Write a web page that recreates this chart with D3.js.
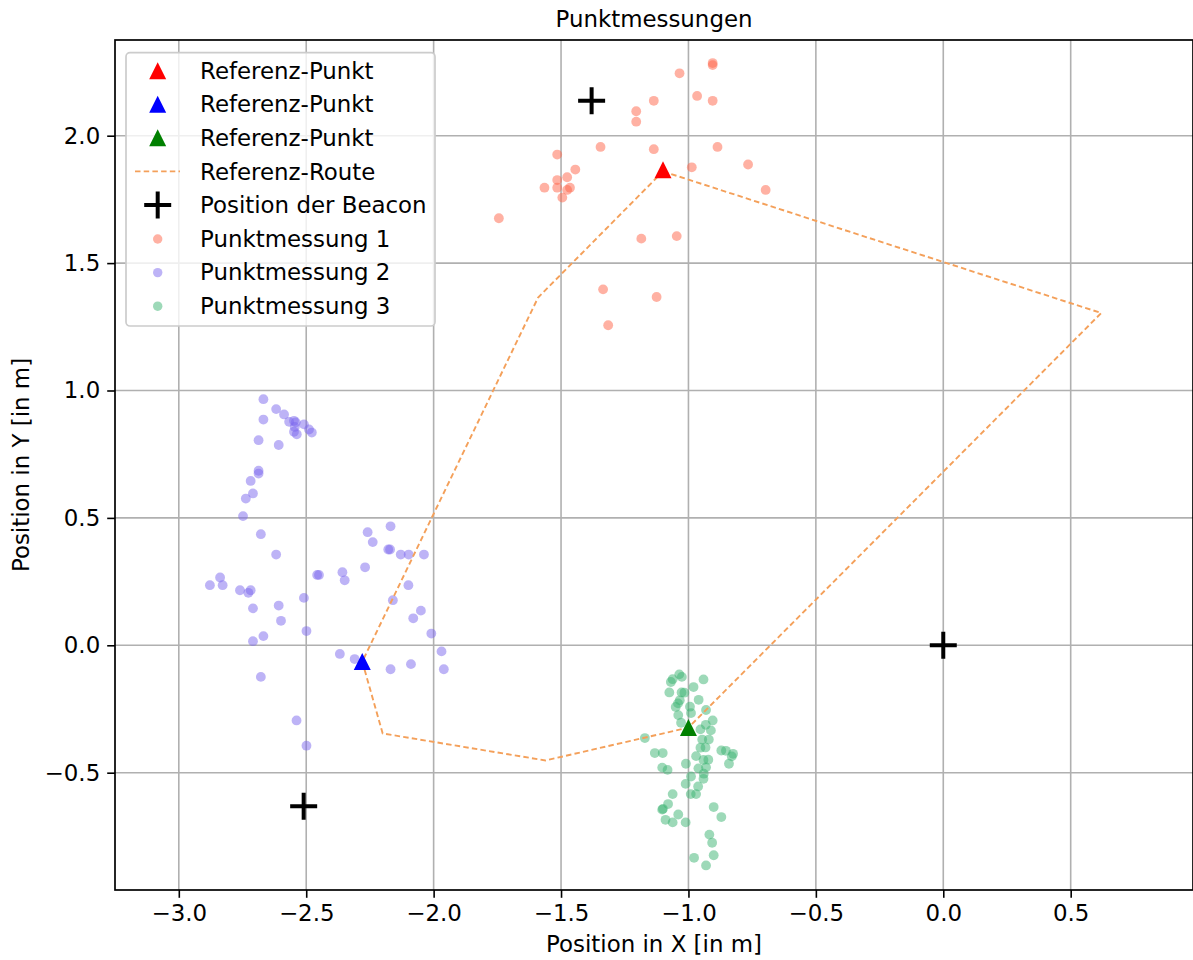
<!DOCTYPE html>
<html>
<head>
<meta charset="utf-8">
<script src="https://cdn.jsdelivr.net/npm/d3@7"></script>
<style>
  html, body { margin: 0; padding: 0; background: #fff; }
  svg { display: block; font-family: "DejaVu Sans", sans-serif; }
</style>
</head>
<body>
<svg id="chart" width="1193" height="960"></svg>
<script>
// Reference points (triangles)
const refX = [-1.10, -2.28, -1.00];
const refY = [1.866, -0.064, -0.323];

// Reference route (closed polygon)
const routeX = [-1.10, 0.62, -1.00, -1.561, -2.20, -2.28, -1.59, -1.10];
const routeY = [1.860, 1.304, -0.323, -0.452, -0.346, -0.064, 1.365, 1.860];

// Beacon positions
const beaconX = [-1.38, 0.0, -2.51];
const beaconY = [2.137, 0.0, -0.632];

// Measurement series 1
const mess1X = [-0.905,-0.905,-1.035,-0.966,-0.905,-1.136,-1.205,-1.205,-1.345,-1.136,-0.886,-1.515,-0.987,-0.766,-1.444,-1.476,-1.515,-1.565,-1.515,-1.465,-1.476,-1.495,-0.697,-1.744,-1.185,-1.046,-1.335,-1.125,-1.315];
const mess1Y = [2.285,2.277,2.245,2.156,2.137,2.137,2.096,2.055,1.956,1.947,1.956,1.926,1.876,1.887,1.867,1.837,1.826,1.796,1.796,1.796,1.787,1.757,1.787,1.676,1.596,1.606,1.397,1.367,1.256];

// Measurement series 2
const mess2X = [-2.668,-2.618,-2.587,-2.567,-2.548,-2.541,-2.545,-2.548,-2.537,-2.509,-2.489,-2.478,-2.668,-2.687,-2.608,-2.687,-2.687,-2.718,-2.709,-2.737,-2.748,-2.678,-2.618,-2.259,-2.169,-2.239,-2.178,-2.171,-2.129,-2.098,-2.038,-2.269,-2.358,-2.349,-2.457,-2.450,-2.099,-2.838,-2.878,-2.828,-2.760,-2.727,-2.718,-2.509,-2.160,-2.709,-2.608,-2.050,-2.080,-2.599,-2.499,-2.009,-2.668,-2.709,-2.368,-2.310,-1.969,-2.169,-2.089,-1.960,-2.678,-2.538,-2.499];
const mess2Y = [0.966,0.927,0.906,0.877,0.881,0.875,0.857,0.838,0.828,0.867,0.847,0.835,0.886,0.805,0.786,0.685,0.674,0.645,0.596,0.576,0.507,0.436,0.356,0.444,0.467,0.405,0.376,0.376,0.356,0.356,0.356,0.306,0.287,0.255,0.276,0.276,0.236,0.266,0.236,0.236,0.216,0.206,0.216,0.186,0.177,0.145,0.156,0.136,0.106,0.096,0.056,0.046,0.036,0.016,-0.034,-0.054,-0.024,-0.094,-0.074,-0.094,-0.124,-0.295,-0.394];

// Measurement series 3
const mess3X = [-1.036,-1.026,-1.062,-1.069,-0.941,-0.980,-1.075,-1.027,-1.016,-0.960,-1.034,-1.041,-0.994,-1.050,-0.931,-0.990,-1.040,-0.905,-1.029,-0.932,-0.953,-0.912,-0.946,-0.920,-0.933,-0.953,-1.171,-1.132,-1.101,-0.871,-0.853,-0.825,-0.830,-0.841,-0.970,-0.941,-0.922,-1.010,-1.103,-1.082,-0.961,-0.931,-0.990,-0.940,-0.941,-1.011,-0.962,-1.062,-0.991,-0.970,-1.080,-1.103,-1.100,-0.901,-0.871,-1.040,-1.090,-1.062,-1.011,-0.918,-0.907,-0.978,-0.901,-0.931];
const mess3Y = [-0.114,-0.124,-0.133,-0.144,-0.134,-0.164,-0.185,-0.185,-0.186,-0.214,-0.216,-0.228,-0.241,-0.242,-0.254,-0.266,-0.274,-0.295,-0.304,-0.312,-0.330,-0.334,-0.370,-0.370,-0.401,-0.402,-0.364,-0.423,-0.423,-0.413,-0.414,-0.426,-0.436,-0.465,-0.435,-0.450,-0.449,-0.465,-0.480,-0.489,-0.483,-0.479,-0.515,-0.504,-0.524,-0.544,-0.554,-0.584,-0.584,-0.584,-0.623,-0.645,-0.642,-0.635,-0.674,-0.664,-0.685,-0.695,-0.695,-0.743,-0.775,-0.834,-0.824,-0.864];

// Axis ticks and texts
const xTicks = [-3.0, -2.5, -2.0, -1.5, -1.0, -0.5, 0.0, 0.5];
const yTicks = [-0.5, 0.0, 0.5, 1.0, 1.5, 2.0];
const titleText = "Punktmessungen";
const xLabelText = "Position in X [in m]";
const yLabelText = "Position in Y [in m]";
const legendLabels = ["Referenz-Punkt", "Referenz-Punkt", "Referenz-Punkt", "Referenz-Route",
                      "Position der Beacon", "Punktmessung 1", "Punktmessung 2", "Punktmessung 3"];

// ---- layout / styles ----
const plot = { left: 115, right: 1193, top: 40, bottom: 890 };
const fontSize = 22.9;
const refColors = ["#ff0000", "#0000ff", "#008000"];
const messColors = ["#ff6347", "#7b68ee", "#3cb371"];
const routeColor = "#f4a05a";
const gridColor = "#b0b0b0";

const svg = d3.select("#chart");

const x = d3.scaleLinear().domain([-3.2504, 0.9800]).range([plot.left, plot.right]);
const y = d3.scaleLinear().domain([-0.9604, 2.3756]).range([plot.bottom, plot.top]);

const fmt = v => d3.format(".1f")(v).replace("-", "\u2212");

// clip for plot area
svg.append("defs").append("clipPath").attr("id", "plotclip")
  .append("rect").attr("x", plot.left).attr("y", plot.top)
  .attr("width", plot.right - plot.left).attr("height", plot.bottom - plot.top);

// grid
const grid = svg.append("g");
grid.selectAll("line.gx").data(xTicks).join("line")
  .attr("x1", d => x(d)).attr("x2", d => x(d))
  .attr("y1", plot.top).attr("y2", plot.bottom)
  .attr("stroke", gridColor).attr("stroke-width", 1.6);
grid.selectAll("line.gy").data(yTicks).join("line")
  .attr("y1", d => y(d)).attr("y2", d => y(d))
  .attr("x1", plot.left).attr("x2", plot.right)
  .attr("stroke", gridColor).attr("stroke-width", 1.6);

const layer = svg.append("g").attr("clip-path", "url(#plotclip)");

// scatter series
const series = [[mess1X, mess1Y], [mess2X, mess2Y], [mess3X, mess3Y]];
series.forEach(([xs, ys], i) => {
  layer.append("g").selectAll("circle").data(xs.map((v, k) => [v, ys[k]])).join("circle")
    .attr("cx", d => x(d[0])).attr("cy", d => y(d[1])).attr("r", 4.9)
    .attr("fill", messColors[i]).attr("fill-opacity", 0.5);
});

// route
const routeLine = d3.line().x(d => x(d[0])).y(d => y(d[1]));
layer.append("path")
  .attr("d", routeLine(routeX.map((v, k) => [v, routeY[k]])))
  .attr("fill", "none").attr("stroke", routeColor).attr("stroke-width", 1.9)
  .attr("stroke-dasharray", "5.5,3.2");

// triangle marker path centred on its bounding box
const tri = s => `M0,${-s / 2}L${s / 2},${s / 2}L${-s / 2},${s / 2}Z`;
const plus = s => `M${-s / 2},0H${s / 2}M0,${-s / 2}V${s / 2}`;

refX.forEach((v, i) => {
  layer.append("path").attr("d", tri(17))
    .attr("transform", `translate(${x(v)},${y(refY[i])})`)
    .attr("fill", refColors[i]);
});

beaconX.forEach((v, i) => {
  layer.append("path").attr("d", plus(27))
    .attr("transform", `translate(${x(v)},${y(beaconY[i])})`)
    .attr("stroke", "#000").attr("stroke-width", 4).attr("fill", "none");
});

// spines
svg.append("rect").attr("x", plot.left).attr("y", plot.top)
  .attr("width", plot.right - plot.left).attr("height", plot.bottom - plot.top)
  .attr("fill", "none").attr("stroke", "#000").attr("stroke-width", 1.7);

// axes
const xAxis = d3.axisBottom(x).tickValues(xTicks).tickFormat(fmt).tickSize(7.8).tickPadding(6.5);
const yAxis = d3.axisLeft(y).tickValues(yTicks).tickFormat(fmt).tickSize(7.8).tickPadding(7);
const gx = svg.append("g").attr("transform", `translate(0,${plot.bottom})`).call(xAxis);
const gy = svg.append("g").attr("transform", `translate(${plot.left},0)`).call(yAxis);
[gx, gy].forEach(g => {
  g.select(".domain").remove();
  g.selectAll(".tick line").attr("stroke", "#000").attr("stroke-width", 1.6);
  g.selectAll(".tick text").attr("fill", "#000").attr("font-size", fontSize)
    .attr("font-family", "DejaVu Sans");
});

// title and axis labels
svg.append("text").attr("x", (plot.left + plot.right) / 2).attr("y", 27)
  .attr("text-anchor", "middle").attr("font-size", fontSize).text(titleText);
svg.append("text").attr("x", (plot.left + plot.right) / 2).attr("y", 952)
  .attr("text-anchor", "middle").attr("font-size", fontSize).text(xLabelText);
svg.append("text").attr("transform", `translate(29,${(plot.top + plot.bottom) / 2}) rotate(-90)`)
  .attr("text-anchor", "middle").attr("font-size", fontSize).text(yLabelText);

// legend
const leg = svg.append("g");
leg.append("rect").attr("x", 126).attr("y", 52.7).attr("width", 309).attr("height", 273.3)
  .attr("rx", 4).attr("fill", "#fff").attr("fill-opacity", 0.8)
  .attr("stroke", "#cccccc").attr("stroke-width", 1.7);
const rowY = i => 70.7 + i * 33.57;
const mx = 157.7;
legendLabels.forEach((label, i) => {
  const ry = rowY(i);
  if (i < 3) {
    leg.append("path").attr("d", tri(17)).attr("transform", `translate(${mx},${ry})`)
      .attr("fill", refColors[i]);
  } else if (i === 3) {
    leg.append("line").attr("x1", 135).attr("x2", 180).attr("y1", ry).attr("y2", ry)
      .attr("stroke", routeColor).attr("stroke-width", 1.9).attr("stroke-dasharray", "5.5,3.2");
  } else if (i === 4) {
    leg.append("path").attr("d", plus(27)).attr("transform", `translate(${mx},${ry})`)
      .attr("stroke", "#000").attr("stroke-width", 4).attr("fill", "none");
  } else {
    leg.append("circle").attr("cx", mx).attr("cy", ry + 0.5).attr("r", 4.7)
      .attr("fill", messColors[i - 5]).attr("fill-opacity", 0.5);
  }
  leg.append("text").attr("x", 200).attr("y", ry + 8.2).attr("font-size", fontSize).text(label);
});
</script>
</body>
</html>
